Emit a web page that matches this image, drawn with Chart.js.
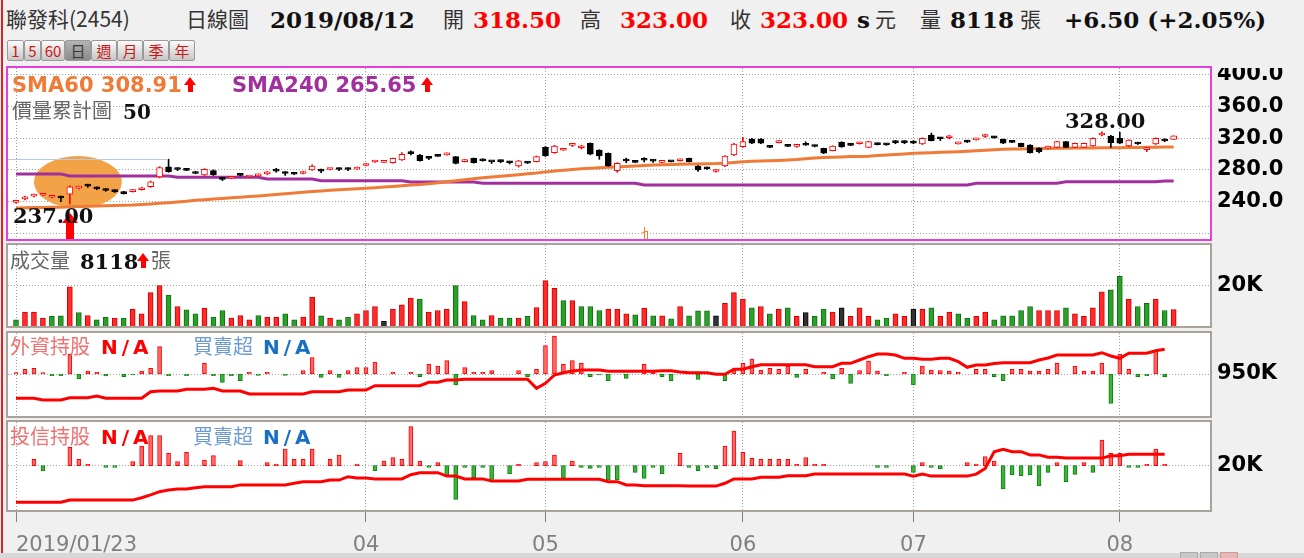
<!DOCTYPE html>
<html lang="zh-Hant">
<head>
<meta charset="utf-8">
<title>聯發科(2454) 日線圖</title>
<script src="https://cdn.jsdelivr.net/npm/chart.js@4.4.1/dist/chart.umd.min.js"></script>
<style>
  html, body { margin: 0; padding: 0; }
  body { width: 1304px; height: 558px; background: #f0f0f0; position: relative; overflow: hidden;
         font-family: "Noto Sans CJK TC", sans-serif; }
  .t { position: absolute; white-space: nowrap; line-height: 1; }
  .cjk { font-family: "Noto Sans CJK TC", sans-serif; font-size: 21px; color: #333; }
  .num { font-family: "DejaVu Serif", serif; font-weight: bold; font-size: 23px; color: #111; }
  .red { color: #f00; }
  .lab { font-family: "DejaVu Sans", sans-serif; font-weight: bold; font-size: 21px; }
  .gray { font-family: "Noto Sans CJK TC", sans-serif; font-size: 20px; color: #666; }
  .up { position: absolute; width: 13px; height: 15px; }
  .up::before { content: ""; position: absolute; left: 0; top: 0; border-left: 6.5px solid transparent;
                border-right: 6.5px solid transparent; border-bottom: 8px solid #f00; }
  .up::after { content: ""; position: absolute; left: 4px; top: 8px; width: 5px; height: 7px; background: #f00; }
  canvas { position: absolute; }
  .box { position: absolute; pointer-events: none; }
  .btn { position: absolute; top: 40px; height: 19px; border: 1px solid #9a9a9a; border-radius: 2px;
         background: linear-gradient(#fbfbfb, #c6c6c6); color: #c81818; font-size: 15px; line-height: 19px;
         text-align: center; font-family: "Noto Sans CJK TC", sans-serif; }
  .btn.on { background: linear-gradient(#b4b4b4, #8a8a8a); color: #3a3a3a; }
</style>
</head>
<body>

<div class="box" style="left:1px;top:0;width:2px;height:558px;background:#e02020"></div>

<!-- header -->
<div class="t cjk" style="left:6px;top:8px">聯發科(2454)</div>
<div class="t cjk" style="left:186px;top:8px">日線圖</div>
<div class="t num" style="left:270px;top:8px">2019/08/12</div>
<div class="t cjk" style="left:443px;top:8px">開</div>
<div class="t num red" style="left:473px;top:8px">318.50</div>
<div class="t cjk" style="left:580px;top:8px">高</div>
<div class="t num red" style="left:620px;top:8px">323.00</div>
<div class="t cjk" style="left:730px;top:8px">收</div>
<div class="t num red" style="left:760px;top:8px">323.00</div>
<div class="t num" style="left:857px;top:8px">s</div>
<div class="t cjk" style="left:875px;top:8px">元</div>
<div class="t cjk" style="left:920px;top:8px">量</div>
<div class="t num" style="left:950px;top:8px">8118</div>
<div class="t cjk" style="left:1020px;top:8px">張</div>
<div class="t num" style="left:1064px;top:8px">+6.50 (+2.05%)</div>

<div class="btn" style="left:7px;width:15px">1</div>
<div class="btn" style="left:24px;width:15px">5</div>
<div class="btn" style="left:41px;width:22px">60</div>
<div class="btn on" style="left:65px;width:24px">日</div>
<div class="btn" style="left:91px;width:24px">週</div>
<div class="btn" style="left:117px;width:24px">月</div>
<div class="btn" style="left:143px;width:24px">季</div>
<div class="btn" style="left:169px;width:24px">年</div>

<!-- panels -->
<div class="box" style="left:8px;top:68px;width:1202px;height:171px;background:#fff"></div>
<div class="box" style="left:8px;top:245px;width:1202px;height:81px;background:#fff"></div>
<div class="box" style="left:8px;top:333px;width:1202px;height:83px;background:#fff"></div>
<div class="box" style="left:8px;top:422px;width:1202px;height:88px;background:#fff"></div>

<canvas id="priceChart" width="1296" height="171" style="left:8px;top:68px"></canvas>
<canvas id="volumeChart" width="1296" height="81" style="left:8px;top:245px"></canvas>
<canvas id="foreignChart" width="1296" height="83" style="left:8px;top:333px"></canvas>
<canvas id="trustChart" width="1296" height="133" style="left:8px;top:422px"></canvas>

<div class="box" style="left:6px;top:66px;width:1202px;height:171px;border:2px solid #e040e0"></div>
<div class="box" style="left:6px;top:243px;width:1202px;height:81px;border:2px solid #a8a39b"></div>
<div class="box" style="left:6px;top:331px;width:1202px;height:83px;border:2px solid #a8a39b"></div>
<div class="box" style="left:6px;top:420px;width:1202px;height:88px;border:2px solid #a8a39b"></div>

<!-- panel captions -->
<div class="t lab" style="left:12px;top:75px;color:#f07a38">SMA60 308.91</div>
<div class="up" style="left:184px;top:77px"></div>
<div class="t lab" style="left:232px;top:75px;color:#a22f9e">SMA240 265.65</div>
<div class="up" style="left:421px;top:77px"></div>
<div class="t gray" style="left:12px;top:100px">價量累計圖</div>
<div class="t num" style="left:123px;top:102px;font-size:20px">50</div>
<div class="t num" style="left:13px;top:205px;font-size:21px">237.00</div>
<div class="t num" style="left:1065px;top:110px;font-size:21px">328.00</div>

<div class="t gray" style="left:10px;top:250px">成交量</div>
<div class="t num" style="left:80px;top:251px;font-size:21px">8118</div>
<div class="up" style="left:137px;top:253px"></div>
<div class="t gray" style="left:151px;top:250px">張</div>

<div class="t gray" style="left:10px;top:336px;color:#f07070">外資持股</div>
<div class="t lab" style="left:101px;top:337px;font-size:20px;color:#f00;letter-spacing:4px">N/A</div>
<div class="t gray" style="left:193px;top:336px;color:#6b9bd2">買賣超</div>
<div class="t lab" style="left:263px;top:337px;font-size:20px;color:#1a6fc4;letter-spacing:4px">N/A</div>

<div class="t gray" style="left:10px;top:426px;color:#f07070">投信持股</div>
<div class="t lab" style="left:101px;top:427px;font-size:20px;color:#f00;letter-spacing:4px">N/A</div>
<div class="t gray" style="left:193px;top:426px;color:#6b9bd2">買賣超</div>
<div class="t lab" style="left:263px;top:427px;font-size:20px;color:#1a6fc4;letter-spacing:4px">N/A</div>

<div class="box" style="left:0;top:553px;width:1304px;height:5px;background:#d8d8d8"></div>
<div class="box" style="left:1180px;top:552px;width:16px;height:6px;background:#c8c8c8;border:1px solid #aaa"></div>
<div class="box" style="left:1200px;top:552px;width:16px;height:6px;background:#c8c8c8;border:1px solid #aaa"></div>
<div class="box" style="left:1220px;top:552px;width:16px;height:6px;background:#e8b8b8;border:1px solid #c99"></div>

<script>
// trading days 2019/01/23 .. 2019/08/12, x = trading-day index
const tickIdx = [0, 39, 59, 81, 100, 123];
const tickText = ['2019/01/23', '04', '05', '06', '07', '08'];

const open = [
  239, 243.5, 247, 248, 245.5, 246.5, 249.5, 257, 260, 257.5,
  255.5, 254.5, 252.5, 252.5, 255, 258.8, 271, 284, 281, 280.5,
  277.5, 273.6, 279, 269.5, 269.5, 274, 271, 272.5, 275, 279.5,
  277.5, 275, 275.5, 279.9, 279, 280.5, 281, 281, 281, 285.5,
  290, 289.5, 289.1, 292.5, 301.5, 298.8, 295, 297.5, 299, 296.7,
  290.5, 294.6, 293.5, 290.8, 292, 289.5, 284.9, 290, 290.4, 308.5,
  301.7, 304.8, 311, 308, 313.6, 305.1, 301, 279, 292, 291,
  292.8, 291.5, 289.5, 290.6, 291.5, 294.6, 284.9, 283, 278, 284.9,
  298.8, 309.3, 319, 319, 310, 314.5, 310.7, 309.7, 311.6, 311,
  307.3, 304.3, 315, 312, 313, 308.5, 313.5, 313, 315, 315,
  316.5, 312.7, 324, 320.5, 320.6, 312.8, 316.2, 317.8, 322.2, 321.8,
  318.6, 316.4, 313.6, 311.4, 307.3, 307.5, 308.5, 315.6, 308.5, 308.5,
  310.2, 324, 322.8, 319.9, 310.2, 314.5, 305.5, 312.7, 317.5, 318.5
];
const close = [
  240, 246, 248, 248.5, 246.5, 244.5, 258.5, 258, 259.5, 256,
  254, 252.5, 250, 255, 257.5, 265.1, 283, 277.7, 280.5, 279.5,
  275.5, 280.8, 273.6, 268, 270, 273, 271.5, 274.5, 276, 278.5,
  275.5, 274.5, 277.5, 284.9, 278.5, 281, 280.5, 280.5, 283, 286.5,
  290.5, 291.5, 294.6, 299.7, 300.5, 291.6, 294.5, 297, 300, 288.3,
  291.5, 289.1, 291.5, 290.2, 290.5, 289, 291.6, 288.5, 296.7, 297.5,
  310.2, 305.4, 312, 309, 299.7, 297.5, 284.9, 288.3, 291.2, 289.5,
  292.2, 291, 291.5, 290.2, 293.5, 290.4, 279.9, 281.5, 280, 297.5,
  312.7, 315.6, 313.6, 313.6, 308.5, 316.5, 309.7, 310.7, 311.1, 309.5,
  301, 310.2, 309, 311, 314.5, 315.6, 312, 311.5, 314.5, 314.5,
  313.6, 319.9, 316.9, 319.3, 321.6, 314.4, 315, 319.4, 323.4, 320.4,
  313.6, 314.8, 309.3, 301.7, 303, 309.5, 315.6, 308.5, 313.6, 313.6,
  319.9, 326.5, 314.3, 313.6, 317.7, 312.7, 308, 319.9, 316.5, 323
];
const high = [
  242, 247, 249.5, 249, 248, 247, 260, 259.5, 262, 258.5,
  256.5, 255, 253, 255.5, 258, 266, 284, 293.5, 283, 282,
  278, 281.5, 280, 270, 270.5, 275.5, 272, 275, 278, 282,
  278, 275.5, 278, 286.5, 281, 281.5, 282.5, 282.5, 283.5, 288,
  291, 292, 295, 302, 304, 299.5, 297, 298, 301.5, 297,
  293, 295, 294, 291, 292.5, 291, 292, 290.5, 297.5, 309.5,
  311, 306, 313.5, 311, 314, 305.5, 301.5, 289, 295, 292,
  295.5, 293.5, 292, 291, 294, 295, 285.5, 283.5, 280.5, 298,
  313.5, 321, 320, 319.5, 310.5, 317, 312, 312.5, 315.5, 311.5,
  307.5, 310.5, 315.5, 313, 315, 316, 314, 313.5, 317, 317,
  317, 320.5, 326.5, 321, 323.5, 315, 317.5, 320, 325, 322.5,
  319, 317, 314, 312, 307.8, 310, 316, 316, 314, 314,
  320.5, 328, 323.5, 327.5, 318, 315, 308.5, 320.5, 319.5, 323
];
const low = [
  238, 242, 246, 247.5, 244.5, 240, 237, 256, 258, 255,
  253, 251.5, 249.5, 252, 254.5, 258, 270, 277, 279, 279,
  275, 273, 273, 266.5, 269, 272.5, 270.5, 272, 274, 277,
  273, 274, 275, 279.5, 276.5, 280, 279, 279, 280.5, 285,
  289.5, 289, 288.5, 292, 299, 291, 293, 297, 298.5, 287.5,
  290, 288.5, 291, 288, 289, 287.5, 283.5, 288, 290, 297,
  301, 304.5, 309.5, 306.5, 299, 293.4, 284.5, 277, 289, 289,
  290, 289.5, 289, 290, 291, 290, 278, 280.5, 277, 284,
  298, 308.5, 313, 313, 308, 314, 309.5, 308.5, 311, 309,
  300.5, 304, 308.5, 310.5, 312.5, 308, 311.5, 311, 313, 313,
  313, 312, 316.5, 317, 319, 312.5, 314.5, 317.5, 321, 320,
  313, 314.5, 309, 301, 301.5, 307, 308, 308, 308, 308,
  309.5, 323, 308.5, 313, 309.5, 312, 303, 312, 315.5, 318.5
];
const sma60 = [
  232.0, 232.2, 232.4, 232.6, 232.8, 233.0, 233.4, 233.8, 234.1, 234.4,
  234.8, 235.1, 235.4, 235.7, 236.3, 237.0, 237.8, 238.6, 239.5, 240.5,
  241.6, 242.4, 243.2, 244.0, 244.8, 245.6, 246.4, 247.2, 248.1, 249.0,
  249.9, 250.8, 251.7, 252.6, 253.5, 254.4, 255.0, 255.6, 256.2, 256.8,
  257.6, 258.4, 259.2, 260.0, 260.8, 261.6, 262.6, 263.8, 265.0, 266.4,
  267.6, 268.8, 270.0, 271.0, 272.0, 273.0, 274.0, 275.0, 276.0, 277.5,
  278.6, 279.6, 280.6, 281.4, 282.0, 282.6, 283.2, 283.8, 284.4, 285.0,
  285.6, 286.2, 286.5, 286.8, 287.1, 287.4, 287.6, 287.8, 288.0, 288.5,
  289.4, 290.4, 290.8, 291.2, 291.6, 292.0, 292.5, 293.0, 294.0, 295.0,
  295.6, 296.0, 296.4, 296.8, 297.0, 297.3, 298.2, 298.8, 299.4, 300.2,
  301.0, 301.4, 301.8, 302.2, 302.6, 303.0, 303.6, 304.2, 304.8, 305.4,
  306.0, 306.3, 306.5, 306.7, 306.9, 307.1, 307.3, 307.4, 307.5, 307.6,
  307.7, 307.8, 307.9, 308.0, 308.2, 308.4, 308.6, 308.7, 308.8, 308.9
];
const sma240 = [
  274.8, 274.8, 274.8, 274.8, 274.8, 274.8, 272.3, 272.3, 272.3, 272.3,
  272.3, 272.3, 272.3, 272.3, 272.3, 272.3, 272.3, 272.3, 270.6, 270.6,
  270.6, 270.6, 270.6, 270.6, 270.6, 270.6, 270.6, 270.6, 268.5, 268.5,
  268.5, 268.5, 268.5, 268.5, 266.4, 266.4, 266.4, 266.4, 266.4, 266.4,
  266.4, 266.4, 266.4, 266.4, 264.6, 264.6, 264.6, 264.6, 264.6, 264.6,
  264.6, 264.6, 263.1, 263.1, 263.1, 263.1, 263.1, 263.1, 263.1, 263.1,
  263.1, 263.1, 263.1, 263.1, 263.1, 263.1, 263.1, 263.1, 263.1, 263.1,
  260.9, 260.9, 260.9, 260.9, 260.9, 260.9, 260.9, 260.9, 260.9, 260.9,
  260.9, 260.9, 260.9, 260.9, 260.9, 260.9, 260.9, 260.9, 260.9, 260.9,
  260.9, 260.9, 260.9, 260.9, 260.9, 260.9, 260.9, 260.9, 260.9, 260.9,
  260.9, 260.9, 260.9, 260.9, 260.9, 260.9, 260.9, 263.1, 263.1, 263.1,
  263.1, 263.1, 263.1, 263.1, 263.1, 263.1, 263.1, 265.0, 265.0, 265.0,
  265.0, 265.0, 265.0, 265.0, 265.0, 265.0, 265.0, 265.0, 266.0, 266.0
];
// volume in lots (張); direction vs previous close: 1 up, -1 down, 0 flat
const volume = [
  3100, 6900, 6900, 3900, 4800, 5100, 19500, 6700, 5200, 3100,
  4400, 3900, 3900, 8400, 6100, 16600, 20000, 15400, 9700, 8000,
  6100, 8900, 4400, 7700, 3900, 5200, 3100, 5200, 4400, 4400,
  6100, 3100, 4400, 14300, 5100, 3900, 3100, 4400, 6100, 7700,
  9700, 2300, 8400, 10500, 13800, 13400, 6900, 7700, 8400, 20000,
  12100, 5200, 3100, 5200, 3900, 3900, 3900, 4800, 9200, 22500,
  18700, 12600, 12600, 9700, 9700, 7700, 8400, 8400, 6100, 5600,
  8900, 5100, 5100, 3600, 9700, 5100, 7500, 7500, 5100, 11300,
  16600, 13400, 9000, 9700, 6100, 8400, 9000, 4800, 6700, 4800,
  8400, 6900, 9000, 4800, 9000, 4800, 3100, 3900, 6100, 4800,
  8400, 8400, 9000, 4800, 6900, 6100, 3900, 4800, 6900, 3100,
  5100, 5100, 7700, 9700, 7700, 7700, 7700, 9000, 6100, 4800,
  9000, 17000, 17900, 24700, 13400, 9700, 11300, 13400, 7700, 8118
];
const volDir = [
  -1, 1, 1, 1, -1, -1, 1, -1, 1, -1,
  -1, 1, -1, 1, 1, 1, 1, -1, 1, -1,
  -1, 1, -1, -1, 1, 1, 1, -1, 1, 1,
  -1, -1, 1, 1, -1, 1, -1, -1, 1, 1,
  1, 0, 1, 1, 1, -1, 1, 1, 1, -1,
  1, -1, -1, 1, -1, -1, 1, -1, 1, 1,
  1, -1, 1, -1, -1, -1, 1, 1, 1, -1,
  1, -1, 1, -1, 1, -1, -1, -1, 0, 1,
  1, 1, -1, 1, -1, 1, -1, 1, 0, -1,
  -1, 1, 0, 1, 1, 1, -1, -1, 1, 1,
  0, 1, -1, 1, 1, -1, -1, 1, 1, -1,
  -1, -1, -1, -1, 1, 1, 1, -1, 1, 1,
  1, 1, -1, -1, 1, -1, -1, 1, -1, 1
];
// foreign investors: holdings (K lots) and daily net buy/sell (lots)
const foreignHold = [
  925.7, 925.7, 925.7, 924, 924, 924, 926.3, 926.3, 926.3, 928,
  925.7, 925.7, 925.7, 925.7, 925.7, 932.3, 933, 933, 933, 934.7,
  934.7, 934.7, 935.7, 933, 933, 933, 930, 930, 930, 930,
  930, 930, 930, 932.3, 932.3, 932.3, 932.3, 934, 934, 934,
  938.3, 938.3, 938.3, 938.3, 938.3, 938.3, 941.7, 941.7, 944, 944,
  944.7, 944.7, 944.7, 944.7, 944.7, 944.7, 944.7, 944.7, 935.7, 940.7,
  949, 951.3, 953, 954, 954, 954, 952.7, 952.7, 952.7, 952.7,
  952.7, 952.7, 953.3, 953.3, 952, 951.3, 951.3, 951.3, 949.7, 949.7,
  954.7, 954.7, 957.3, 959.3, 959.3, 959.3, 959.3, 959.3, 959.3, 957.3,
  957.3, 957.3, 960.7, 960.7, 964, 967.3, 970, 970, 969, 965.7,
  965.7, 964.7, 964.7, 965.7, 965.7, 962.3, 956.7, 959, 959, 960.5,
  961.3, 961.3, 961.3, 961.3, 964, 966, 969, 969, 969, 969,
  969, 971.3, 968, 965.7, 970.7, 970.7, 970.7, 973.3, 974.7, null
];
const foreignNet = [
  650, 2350, 2850, 650, -850, -850, 10000, -2500, 1500, 850,
  -1000, 0, -1350, -500, 1500, 2850, 13650, -850, 0, -850,
  0, 5350, -850, -4150, -850, -3350, 850, -650, 850, 0,
  -650, 0, 1650, 8150, -1650, 1650, -1650, 1650, 3150, 3150,
  6000, 0, 850, 0, 850, -1350, 4850, 4000, 6650, -5500,
  3150, 850, 850, 1650, 0, 0, 1650, -1350, 2350, 14150,
  19000, 4850, 6650, 5350, -1350, -500, -3350, 0, -2150, 0,
  4850, 2000, -1350, -3350, 0, 0, -2650, 0, 0, -3350,
  2000, 5350, 7500, 2000, 2850, 2350, 4000, -1650, 2350, 0,
  850, -2500, 2850, -4650, 1650, 6500, 1500, -850, 0, 850,
  -5500, 4000, 2000, 1650, 1500, 850, 0, 2350, 2350, -1350,
  -3350, 2350, 2350, 1500, 1500, 2350, 5350, 0, 4000, 1500,
  1500, 5350, -14650, 10000, 2350, -1350, -850, 11650, -1350, null
];
// investment trusts: holdings (K lots) and daily net buy/sell (lots)
const trustHold = [
  10.85, 10.85, 10.85, 10.85, 10.85, 10.85, 11.4, 11.4, 11.4, 11.4,
  11.4, 11.4, 11.4, 11.4, 12.0, 12.7, 13.5, 13.9, 14.2, 14.2,
  14.5, 14.75, 14.75, 14.75, 14.75, 15.2, 15.2, 15.2, 15.2, 15.2,
  15.2, 15.6, 16.0, 16.0, 16.0, 16.4, 16.4, 17.25, 16.9, 16.9,
  16.7, 16.7, 16.7, 16.7, 17.75, 18.25, 18.25, 18.25, 17.4, 17.4,
  16.7, 16.7, 16.7, 16.2, 16.2, 16.2, 16.2, 16.6, 16.6, 16.6,
  16.6, 16.6, 16.6, 16.6, 16.6, 16.6, 16.0, 16.0, 15.2, 15.2,
  15.0, 15.0, 15.0, 15.0, 15.0, 14.9, 14.9, 14.9, 14.9, 15.6,
  16.7, 16.7, 16.7, 17.1, 17.1, 17.1, 17.5, 17.5, 17.5, 17.9,
  17.9, 17.9, 17.9, 17.9, 17.9, 17.9, 17.9, 17.9, 17.9, 17.9,
  17.4, 17.9, 17.4, 17.4, 17.4, 17.4, 17.4, 17.9, 19.3, 23.5,
  24.1, 23.5, 23.5, 22.7, 22.7, 22.1, 22.1, 21.9, 21.9, 21.9,
  21.9, 21.9, 22.5, 22.5, 22.85, 22.85, 22.85, 22.85, 22.85, null
];
const trustNet = [
  0, 0, 630, -530, 0, 0, 1830, 630, 130, 0,
  -170, -170, 0, 400, 1970, 3000, 3000, 1230, 400, 1330,
  0, 570, 1000, 0, 0, 500, 0, 0, 300, 170,
  1670, 630, 630, 1670, 0, 630, 1070, 0, 170, 0,
  -530, 470, 800, 630, 3900, 470, -170, 300, -1100, -3370,
  -170, -1200, -170, -1370, 0, -830, 130, 0, 300, 400,
  1070, -1270, 470, -170, -270, -170, -1430, -1430, 0, -670,
  -1270, -170, -830, 0, 1230, -170, -500, -170, -330, 1970,
  3470, 1330, 730, 630, 630, 630, 630, 130, 800, 130,
  130, 0, 0, 0, 0, 0, -170, -170, 0, 0,
  -670, 300, -170, -330, 0, 0, 300, 170, 900, 470,
  -2330, -930, -1000, -930, -2030, -670, 300, -1600, -870, 300,
  -670, 2570, 1230, 1230, -170, -170, 130, 1670, 130, null
];

const days = open.map((_, i) => i);
const X_MIN = -0.8915, X_MAX = 133.05;
const AXIS_W = 94;
const GRID = '#a0a0a0';
const UP = '#ff0000', DOWN = '#000000';

Chart.defaults.font.family = "'DejaVu Sans', sans-serif";
Chart.defaults.animation = false;

function xAxis(showLabels) {
    return {
        type: 'linear', min: X_MIN, max: X_MAX, offset: false,
        afterBuildTicks: s => {
            s.ticks = tickIdx.map(v => ({ value: v }));
            if (showLabels) s.ticks.push({ value: X_MAX });
        },
        afterFit: s => { s.height = showLabels ? 45 : 0; s.paddingLeft = 0; s.paddingRight = 0; },
        grid: {
            offset: false,
            color: c => (c.tick && c.tick.value === X_MAX) ? 'rgba(0,0,0,0)' : GRID,
            drawTicks: showLabels, tickLength: 12, tickBorderDash: [],
            tickColor: c => (c.tick && c.tick.value === X_MAX) ? 'rgba(0,0,0,0)' : '#808080'
        },
        border: { display: false, dash: [1, 2] },
        ticks: {
            display: showLabels, autoSkip: false, maxRotation: 0, align: 'inner',
            color: '#808080', font: { size: 21 }, padding: 11,
            callback: (v, i) => i < tickText.length ? tickText[i] : ''
        }
    };
}

function yAxis(min, max, ticks, fmt) {
    return {
        position: 'right', min, max,
        afterBuildTicks: s => { s.ticks = ticks.map(v => ({ value: v })); },
        afterFit: s => { s.width = AXIS_W; s.paddingTop = 0; s.paddingBottom = 0; },
        grid: { color: GRID, drawTicks: false },
        border: { display: false, dash: [1, 2] },
        ticks: { color: '#000', font: { size: 21, weight: 'bold' }, padding: 7, callback: fmt }
    };
}

const baseOptions = {
    responsive: false,
    events: [],
    layout: { padding: 0 },
    plugins: { legend: { display: false }, tooltip: { enabled: false } }
};

// highlight ellipse, volume-profile line, low marker
const priceDecor = {
    id: 'priceDecor',
    beforeDatasetsDraw(chart) {
        const { ctx, chartArea, scales: { x, y } } = chart;
        ctx.save();
        ctx.fillStyle = '#f3a347';
        ctx.beginPath();
        ctx.ellipse(x.getPixelForValue(6.9), y.getPixelForValue(264.7), 44, 26, 0, 0, Math.PI * 2);
        ctx.fill();
        ctx.strokeStyle = '#b4cbe6';
        ctx.lineWidth = 1;
        const ly = Math.round(y.getPixelForValue(293.8)) + 0.5;
        ctx.beginPath();
        ctx.moveTo(chartArea.left, ly);
        ctx.lineTo(x.getPixelForValue(16.8), ly);
        ctx.stroke();
        ctx.restore();
    },
    afterDatasetsDraw(chart) {
        const { ctx, chartArea, scales: { x } } = chart;
        const lowIdx = low.indexOf(Math.min(...low));
        const px = Math.round(x.getPixelForValue(lowIdx));
        const b = chartArea.bottom;
        ctx.save();
        ctx.fillStyle = '#ff0000';
        ctx.beginPath();
        ctx.moveTo(px, b - 26);
        ctx.lineTo(px + 8, b - 16);
        ctx.lineTo(px + 4, b - 16);
        ctx.lineTo(px + 4, b);
        ctx.lineTo(px - 4, b);
        ctx.lineTo(px - 4, b - 16);
        ctx.lineTo(px - 8, b - 16);
        ctx.closePath();
        ctx.fill();
        // ex-dividend mark
        const dx = Math.round(x.getPixelForValue(70)) + 0.5;
        ctx.strokeStyle = '#f08030';
        ctx.lineWidth = 1;
        ctx.beginPath();
        ctx.moveTo(dx, b - 12); ctx.lineTo(dx, b);
        ctx.moveTo(dx - 3, b - 6); ctx.lineTo(dx + 3, b - 8);
        ctx.moveTo(dx + 3, b - 8); ctx.lineTo(dx + 3, b);
        ctx.stroke();
        ctx.restore();
    }
};

const isUp = i => close[i] > open[i];

new Chart(document.getElementById('priceChart'), {
    type: 'bar',
    data: {
        datasets: [
            {
                label: '收盤', data: days.map(i => ({ x: i, y: [open[i], close[i]] })),
                barThickness: 6, grouped: false, minBarLength: 2, borderSkipped: false,
                backgroundColor: days.map(i => isUp(i) ? '#ffffff' : DOWN),
                borderColor: days.map(i => isUp(i) ? UP : DOWN), borderWidth: 1, order: 0
            },
            {
                label: '高低', data: days.map(i => ({ x: i, y: [low[i], high[i]] })),
                barThickness: 1, grouped: false, borderWidth: 0,
                backgroundColor: days.map(i => isUp(i) ? UP : DOWN), order: 1
            },
            {
                type: 'line', label: 'SMA60', data: days.map(i => ({ x: i, y: sma60[i] })),
                borderColor: '#f07a38', borderWidth: 3, pointRadius: 0, tension: 0, order: 2
            },
            {
                type: 'line', label: 'SMA240', data: days.map(i => ({ x: i, y: sma240[i] })),
                borderColor: '#a22f9e', borderWidth: 3, pointRadius: 0, tension: 0, order: 3
            }
        ]
    },
    options: {
        ...baseOptions,
        scales: {
            x: xAxis(false),
            y: yAxis(192.8, 408.6, [200, 240, 280, 320, 360, 400], v => v === 200 ? '' : v.toFixed(1))
        }
    },
    plugins: [priceDecor]
});

new Chart(document.getElementById('volumeChart'), {
    type: 'bar',
    data: {
        datasets: [{
            label: '成交量', data: days.map(i => ({ x: i, y: volume[i] })),
            barThickness: 5, grouped: false, borderWidth: 1,
            backgroundColor: days.map(i => volDir[i] > 0 ? '#ff2a2a' : volDir[i] < 0 ? '#2aa02a' : '#333333'),
            borderColor: days.map(i => volDir[i] > 0 ? '#d00000' : volDir[i] < 0 ? '#107010' : '#000000')
        }]
    },
    options: {
        ...baseOptions,
        scales: {
            x: xAxis(false),
            y: yAxis(0, 40200, [20000], v => (v / 1000) + 'K')
        }
    }
});

function holdChart(id, hold, net, netMin, netMax, holdMin, holdMax, tick, showX) {
    return new Chart(document.getElementById(id), {
        type: 'bar',
        data: {
            datasets: [
                {
                    type: 'line', label: '持股', data: days.map(i => ({ x: i, y: hold[i] })), yAxisID: 'y',
                    borderColor: '#ff0000', borderWidth: 3, pointRadius: 0, tension: 0, order: 0
                },
                {
                    label: '買賣超', data: days.map(i => ({ x: i, y: net[i] })), yAxisID: 'net',
                    barThickness: 4, grouped: false, borderWidth: 1, borderSkipped: false,
                    backgroundColor: days.map(i => net[i] >= 0 ? '#ff6a6a' : '#3cb43c'),
                    borderColor: days.map(i => net[i] >= 0 ? '#ff0000' : '#108010'), order: 1
                }
            ]
        },
        options: {
            ...baseOptions,
            scales: {
                x: xAxis(showX),
                y: yAxis(holdMin, holdMax, [tick], v => v + 'K'),
                net: { display: false, min: netMin, max: netMax }
            }
        }
    });
}

holdChart('foreignChart', foreignHold, foreignNet, -21000, 20500, 908, 991, 950, false);
holdChart('trustChart', trustHold, trustNet, -4430, 4370, 8.925, 30.925, 20, true);
</script>
</body>
</html>
